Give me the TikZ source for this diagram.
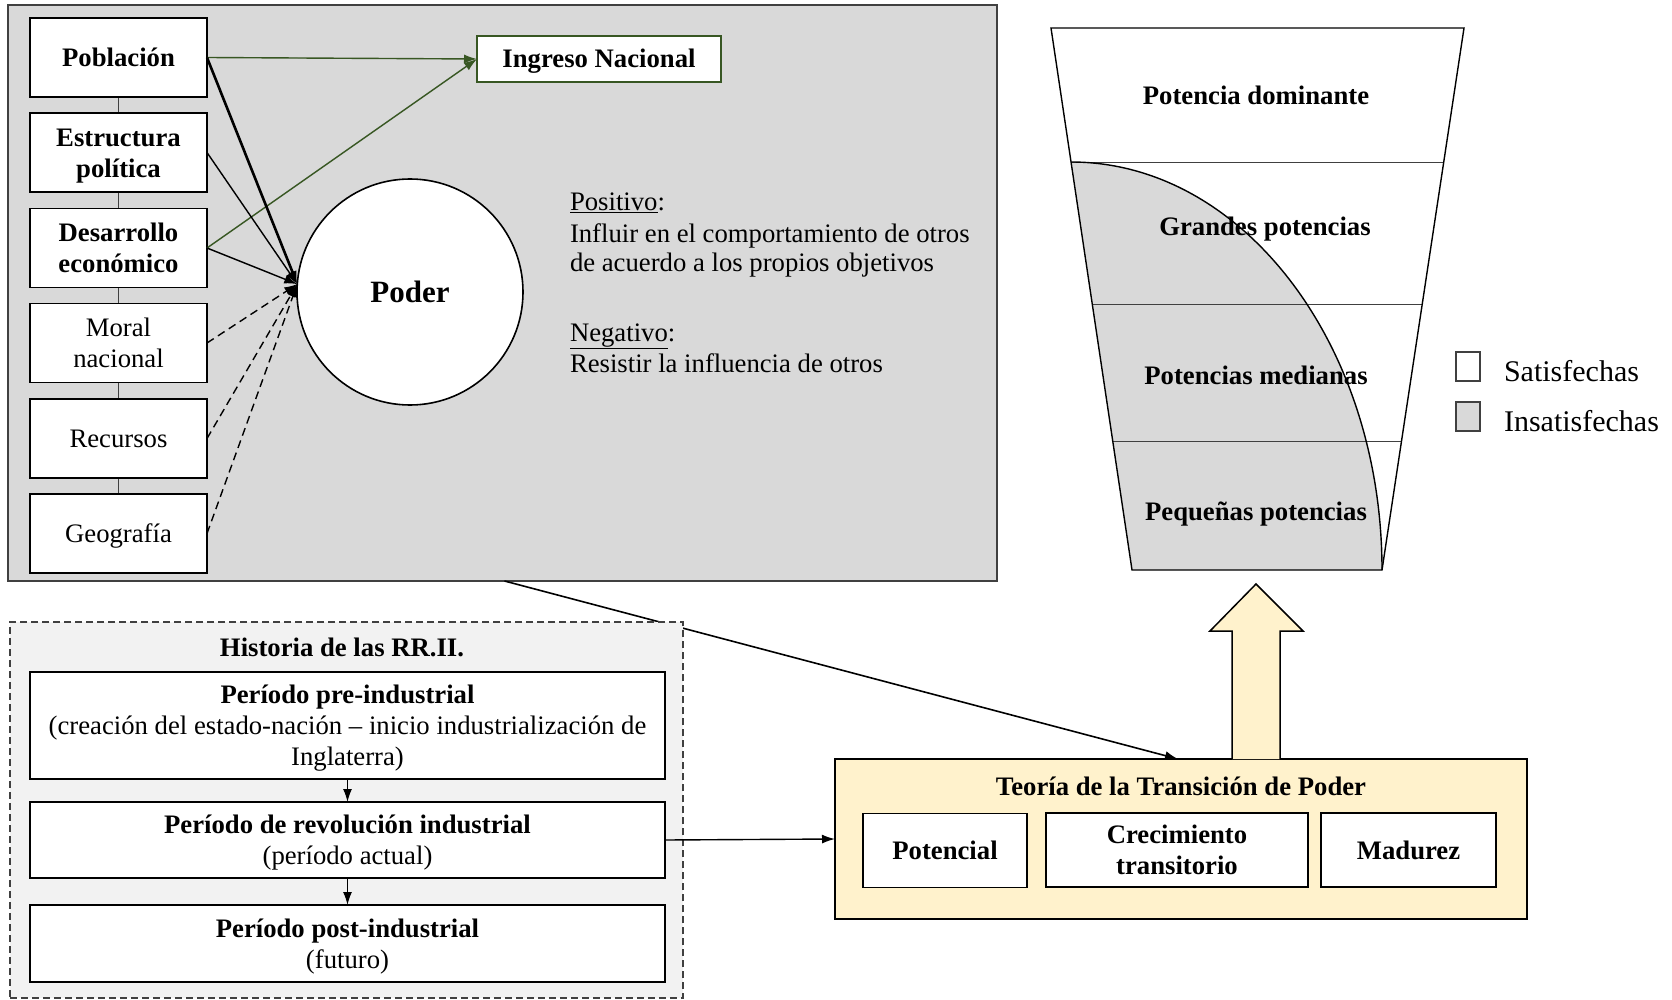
\documentclass[tikz,border=0pt]{standalone}
\usepackage{fontspec}
\setmainfont{Liberation Serif}
\usetikzlibrary{arrows.meta}
\definecolor{boxgray}{HTML}{D9D9D9}
\definecolor{histgray}{HTML}{F2F2F2}
\definecolor{teoyellow}{HTML}{FFF2CC}
\definecolor{dkgreen}{HTML}{385723}
\definecolor{edgegray}{HTML}{404040}
\newcommand\fsn{\fontsize{26.7}{31}\selectfont}
\newcommand\fsl{\fontsize{30}{35}\selectfont}
\newcommand\fsp{\fontsize{31}{36}\selectfont}
\newcommand\mystrut{\rule[-0.216em]{0pt}{1.107em}}
\begin{document}
\begin{tikzpicture}[x=1pt,y=-1pt,
 every node/.style={font=\fsn, inner sep=0pt, outer sep=0pt},
 tstrut/.style={execute at end node=\mystrut},
 lbox/.style={draw=black, line width=1.6pt, fill=white, minimum width=177pt, minimum height=79pt, align=center, tstrut},
 bbox/.style={lbox, font=\fsn\bfseries},
 hbox/.style={draw=black, line width=1.6pt, fill=white, minimum width=635pt, align=center, font=\fsn, tstrut},
 tbox/.style={draw=black, line width=1.6pt, fill=white, minimum height=74pt, align=center, font=\fsn\bfseries, tstrut},
 arr/.style={-{Latex[length=13pt,width=9pt]}, line width=1.4pt},
 darr/.style={arr, dash pattern=on 8pt off 5pt},
 garr/.style={-{Latex[length=13pt,width=9pt]}, line width=1.4pt, draw=dkgreen, fill=dkgreen},
 ptxt/.style={anchor=base west, font=\fsn}
]
\useasboundingbox (0,0) rectangle (1672,1000);
\fill[white] (0,0) rectangle (1672,1000);

% ---------- main gray box ----------
\node[draw=edgegray, fill=boxgray, line width=1.6pt, minimum width=989pt, minimum height=576pt] (big) at (502.5,293) {};

% left column connector
\draw[edgegray, line width=1.2pt] (118.5,57.5) -- (118.5,533.5);

\node[bbox] (pob) at (118.5,57.5) {\mystrut Población};
\node[bbox] (est) at (118.5,152.5) {\mystrut Estructura\\política};
\node[bbox] (des) at (118.5,248) {\mystrut Desarrollo\\económico};
\node[lbox] (mor) at (118.5,343) {\mystrut Moral\\nacional};
\node[lbox] (rec) at (118.5,438.5) {\mystrut Recursos};
\node[lbox] (geo) at (118.5,533.5) {\mystrut Geografía};

\node[draw=dkgreen, line width=1.4pt, fill=white, minimum width=244pt, minimum height=46pt, font=\fsn\bfseries, tstrut] (ing) at (599,59) {\mystrut Ingreso Nacional};

\node[draw=black, line width=1.6pt, fill=white, circle, minimum size=226pt, font=\fsp\bfseries] (poder) at (410,292) {Poder};
\coordinate (conv) at (poder.176);

% arrows to Ingreso
\draw[garr] (pob.east) -- (ing.west);
\draw[garr] (des.east) -- (ing.west);
% arrows to Poder
\draw[arr, line width=2.6pt] (pob.east) -- (conv);
\draw[arr] (est.east) -- (conv);
\draw[arr] (des.east) -- (conv);
\draw[darr] (mor.east) -- (conv);
\draw[darr] (rec.east) -- (conv);
\draw[darr] (geo.east) -- (conv);

% definitions
\node[ptxt] (pos1) at (570,211) {\underline{Positivo}:};
\node[ptxt] (pos2) at (570,243) {Influir en el comportamiento de otros};
\node[ptxt] (pos3) at (570,272) {de acuerdo a los propios objetivos};
\node[ptxt] (neg1) at (570,341) {\underline{Negativo}:};
\node[ptxt] (neg2) at (570,372) {Resistir la influencia de otros};

% ---------- Teoria box ----------
\node[draw=black, line width=1.6pt, fill=teoyellow, minimum width=692pt, minimum height=160pt] (teo) at (1181,839) {};
\node[font=\fsn\bfseries] (teot) at (1181,786) {Teoría de la Transición de Poder};
\node[tbox, minimum width=164pt] (pot) at (945,850.5) {\mystrut Potencial};
\node[tbox, minimum width=262pt] (cre) at (1177,850) {\mystrut Crecimiento\\transitorio};
\node[tbox, minimum width=175pt] (mad) at (1408.5,850) {\mystrut Madurez};

% arrow from big box to teoria (passes under the history box)
\draw[arr, line width=1.6pt] ([xshift=2pt]big.south) -- ([xshift=-3pt]teo.north);

% ---------- Historia box ----------
\node[draw=edgegray, dash pattern=on 7pt off 4pt, line width=1.4pt, fill=histgray, minimum width=673pt, minimum height=376pt] (hist) at (346.5,810) {};
\node[font=\fsn\bfseries] (histt) at (342,647) {Historia de las RR.II.};
\node[hbox, minimum height=107pt] (pre) at (347.5,725.5) {\mystrut\textbf{Período pre-industrial}\\(creación del estado-nación – inicio industrialización de\\Inglaterra)};
\node[hbox, minimum height=76pt] (rev) at (347.5,840) {\mystrut\textbf{Período de revolución industrial}\\(período actual)};
\node[hbox, minimum height=77pt] (post) at (347.5,943.5) {\mystrut\textbf{Período post-industrial}\\(futuro)};
\draw[arr] (pre.south) -- (rev.north);
\draw[arr] (rev.south) -- (post.north);
\draw[arr] (rev.east) -- (teo.west);

% ---------- block arrow ----------
\draw[fill=teoyellow, line width=1.5pt, line join=miter]
  (1232,759) -- (1232,631) -- (1210,631) -- (1256,584) -- (1303,631) -- (1280,631) -- (1280,759);

% ---------- funnel ----------
\fill[white] (1051,28) -- (1464,28) -- (1382,570) -- (1132,570) -- cycle;
\fill[boxgray] (1071,162) arc[start angle=-90, end angle=0, x radius=311, y radius=408] -- (1132,570) -- cycle;
\draw[draw=edgegray, line width=0.9pt] (1071,162) -- (1443.7,162);
\draw[draw=edgegray, line width=0.9pt] (1092.2,304) -- (1422.2,304);
\draw[draw=edgegray, line width=0.9pt] (1112.7,441) -- (1401.5,441);
\draw[black, line width=1.4pt] (1071,162) arc[start angle=-90, end angle=0, x radius=311, y radius=408];
\draw[black, line width=1.4pt] (1051,28) -- (1464,28) -- (1382,570) -- (1132,570) -- cycle;
\node[font=\fsn\bfseries] (f1) at (1256,95) {Potencia dominante};
\node[font=\fsn\bfseries] (f2) at (1265,229) {Grandes potencias};
\node[font=\fsn\bfseries] (f3) at (1256,375) {Potencias medianas};
\node[font=\fsn\bfseries] (f4) at (1256,514) {Pequeñas potencias};

% legend
\node[draw=edgegray, line width=1.4pt, fill=white, minimum width=24pt, minimum height=29pt] (ls) at (1468,366.5) {};
\node[draw=edgegray, line width=1.4pt, fill=boxgray, minimum width=24pt, minimum height=29pt] (li) at (1468,416.5) {};
\node[anchor=west, font=\fsl] (lst) at (1504,371) {Satisfechas};
\node[anchor=west, font=\fsl] (lit) at (1504,421) {Insatisfechas};
\end{tikzpicture}
\end{document}
